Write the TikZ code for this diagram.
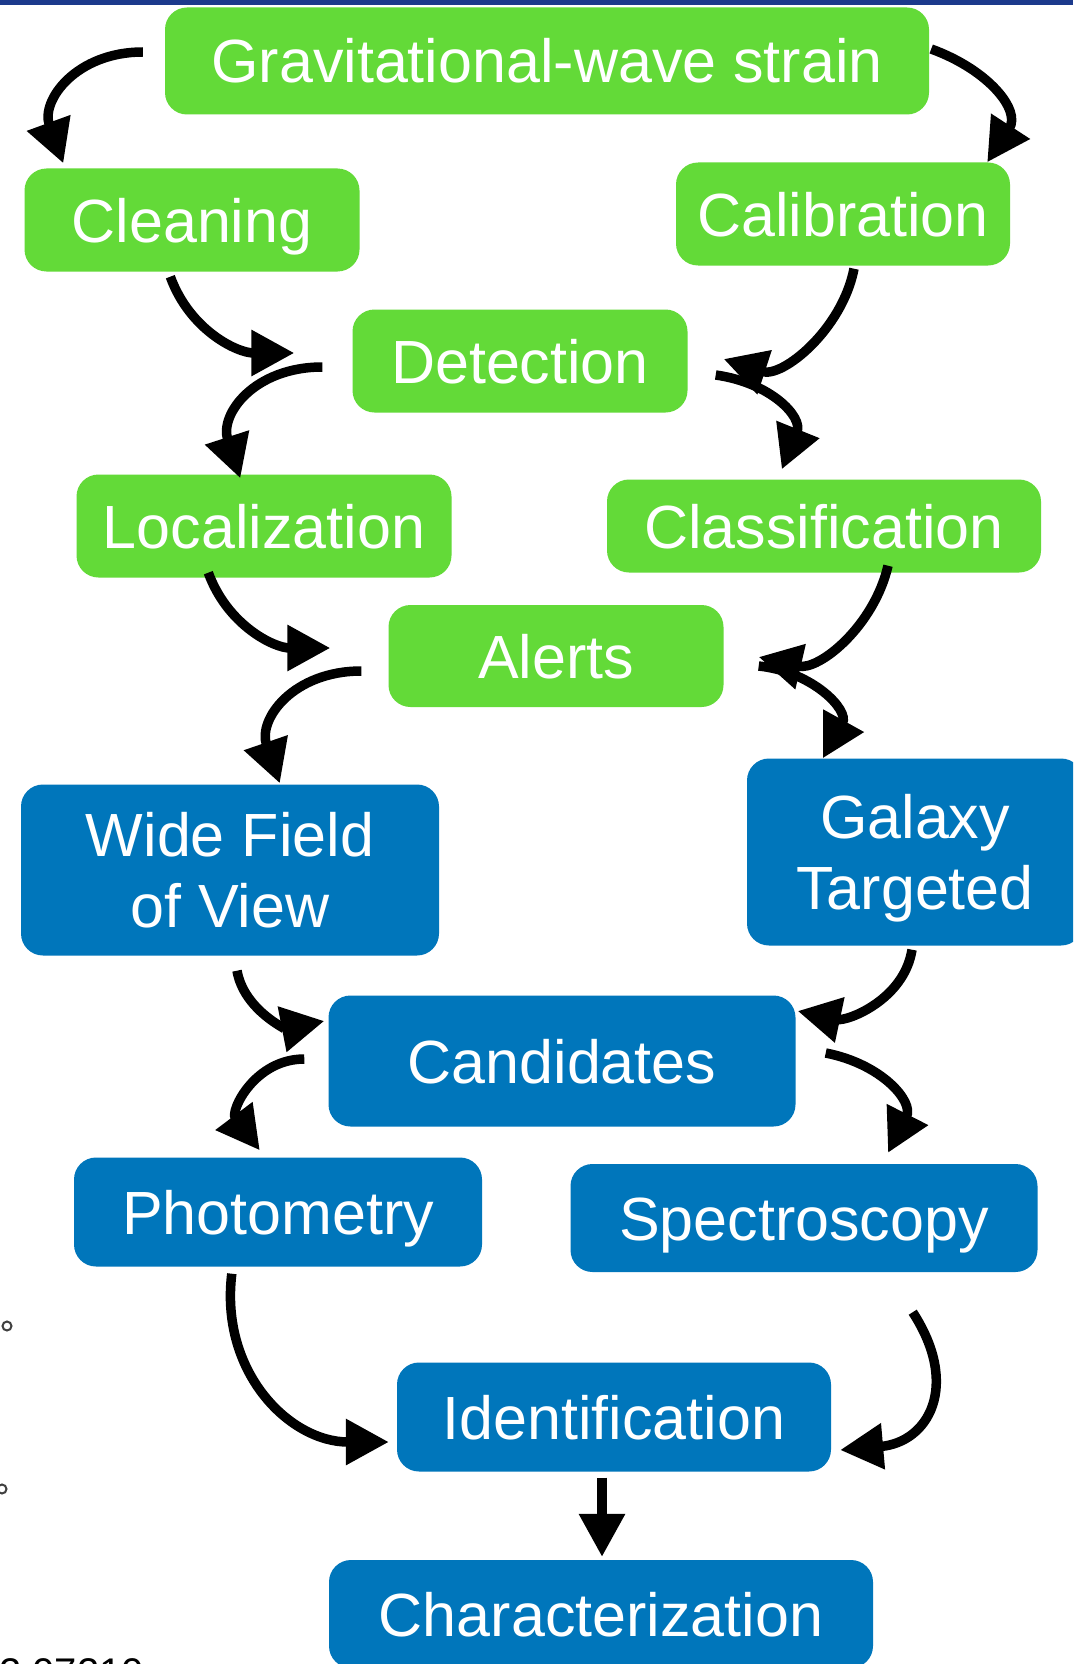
\documentclass[tikz,border=0pt]{standalone}
\usepackage{fontspec}
\setmainfont{Liberation Sans}
\usetikzlibrary{arrows.meta,calc}
\definecolor{ggreen}{RGB}{99,218,56}
\definecolor{bblue}{RGB}{0,118,187}
\definecolor{topbar}{RGB}{28,58,140}
\tikzset{
  boxbase/.style={rectangle, rounded corners=22pt, text=white, inner sep=0pt,
    font=\fontsize{61}{71}\selectfont},
  gbox/.style={boxbase, fill=ggreen},
  bbox/.style={boxbase, fill=bblue},
  oneline/.style={text height=44pt, text depth=0pt},
  arr/.style={line width=9.5pt, -{Triangle[length=43pt,width=44pt]}},
}
\begin{document}
\begin{tikzpicture}[x=1pt,y=1pt]
\useasboundingbox (0,0) rectangle (1073,-1664);
\clip (0,0) rectangle (1073,-1664);
\fill[white] (0,0) rectangle (1073,-1664);
\fill[topbar] (0,0) rectangle (1073,-5);

% nodes
\node[gbox, oneline, minimum width=764pt, minimum height=107pt] (grav) at (547,-61) {Gravitational-wave strain};
\node[gbox, oneline, minimum width=335pt, minimum height=103pt] (clean) at (192,-220) {Cleaning};
\node[gbox, oneline, minimum width=334pt, minimum height=103pt] (calib) at (843,-214) {Calibration};
\node[gbox, oneline, minimum width=335pt, minimum height=103pt] (detect) at (520,-361) {Detection};
\node[gbox, oneline, minimum width=375pt, minimum height=103pt] (local) at (264,-526) {Localization};
\node[gbox, oneline, minimum width=434pt, minimum height=93pt] (classif) at (824,-526) {Classification};
\node[gbox, oneline, minimum width=335pt, minimum height=102pt] (alerts) at (556,-656) {Alerts};
\node[bbox, align=center, text depth=0pt, minimum width=418pt, minimum height=171pt] (wide) at (230,-870) {Wide Field\\of View};
\node[bbox, align=center, text depth=0pt, minimum width=336pt, minimum height=187pt] (galaxy) at (915,-852) {Galaxy\\Targeted};
\node[bbox, oneline, minimum width=467pt, minimum height=131pt] (cand) at (562,-1061) {Candidates};
\node[bbox, oneline, minimum width=408pt, minimum height=109pt] (photo) at (278,-1212) {Photometry};
\node[bbox, oneline, minimum width=467pt, minimum height=108pt] (spec) at (804,-1218) {Spectroscopy};
\node[bbox, oneline, minimum width=434pt, minimum height=109pt] (ident) at (614,-1417) {Identification};
\node[bbox, oneline, minimum width=544pt, minimum height=108pt] (charac) at (601,-1614) {Characterization};

% arrow end points
\coordinate (a1s) at ($(grav.west)+(-22,9)$);
\coordinate (a1e) at ($(clean.north west)+(39,5)$);
\coordinate (a2s) at ($(grav.east)+(2,12)$);
\coordinate (a2e) at ($(calib.north east)+(-23,0)$);
\coordinate (a3s) at ($(clean.south west)+(146,-5)$);
\coordinate (a3e) at ($(detect.west)+(-58,8)$);
\coordinate (a4s) at ($(detect.west)+(-30,-6)$);
\coordinate (a4e) at ($(local.north west)+(164,-4)$);
\coordinate (a5s) at ($(calib.south)+(11,-3)$);
\coordinate (a5e) at ($(detect.east)+(36,2)$);
\coordinate (a6s) at ($(detect.east)+(28,-14)$);
\coordinate (a6e) at ($(classif.north west)+(175,10)$);
\coordinate (a7s) at ($(local.south west)+(132,5)$);
\coordinate (a7e) at ($(alerts.west)+(-58,8)$);
\coordinate (a8s) at ($(alerts.west)+(-27,-15)$);
\coordinate (a8e) at ($(wide.north west)+(259,1)$);
\coordinate (a9s) at ($(classif.south)+(64,7)$);
\coordinate (a9e) at ($(alerts.east)+(35,-1)$);
\coordinate (a10s) at ($(alerts.east)+(35,-10)$);
\coordinate (a10e) at ($(galaxy.north west)+(76,0)$);
\coordinate (a11s) at ($(wide.south)+(7,-15)$);
\coordinate (a11e) at ($(cand.west)+(-4,40)$);
\coordinate (a12s) at ($(cand.west)+(-24,2)$);
\coordinate (a12e) at ($(photo.north west)+(186,7)$);
\coordinate (a13s) at ($(galaxy.south)+(-3,-4)$);
\coordinate (a13e) at ($(cand.east)+(2,50)$);
\coordinate (a14s) at ($(cand.east)+(30,8)$);
\coordinate (a14e) at ($(spec.north)+(84,11)$);
\coordinate (a15s) at ($(photo.south west)+(158,-7)$);
\coordinate (a15e) at ($(ident.west)+(-8,-25)$);
\coordinate (a16s) at ($(spec.south east)+(-125,-40)$);
\coordinate (a16e) at ($(ident.east)+(9,-33)$);
\coordinate (a17s) at ($(ident.south)+(-12,-6)$);
\coordinate (a17e) at ($(charac.north)+(1,3)$);

% connectors
\draw[arr] (a1s) to[out=180,in=110,looseness=1.25] (a1e);
\draw[arr] (a2s) to[out=-20,in=57,looseness=1.25] (a2e);
\draw[arr] (a3s) to[out=-70,in=180] (a3e);
\draw[arr] (a4s) to[out=180,in=108,looseness=1.25] (a4e);
\draw[arr] (a5s) to[out=-101,in=-18] (a5e);
\draw[arr] (a6s) to[out=-8,in=68,looseness=1.25] (a6e);
\draw[arr] (a7s) to[out=-70,in=180] (a7e);
\draw[arr] (a8s) to[out=180,in=109,looseness=1.25] (a8e);
\draw[arr] (a9s) to[out=-103,in=-13] (a9e);
\draw[arr] (a10s) to[out=-6,in=61,looseness=1.25] (a10e);
\draw[arr] (a11s) to[out=-80,in=-169] (a11e);
\draw[arr] (a12s) to[out=180,in=127,looseness=1.25] (a12e);
\draw[arr] (a13s) to[out=-99,in=-12] (a13e);
\draw[arr] (a14s) to[out=-11,in=63,looseness=1.25] (a14e);
\draw[arr] (a15s) to[out=-97,in=180,looseness=1.1] (a15e);
\draw[arr] (a16s) to[out=-57,in=5,looseness=1.45] (a16e);
\draw[arr] (a17s) -- (a17e);

% page fragments at the left edge
\draw[line width=2pt, black!75] (7,-1326) circle[radius=4.5];
\draw[line width=2pt, black!75] (2,-1489) circle[radius=4.5];
\node[anchor=base west, inner sep=0pt, font=\fontsize{40}{48}\selectfont] (frag) at (-1,-1686) {2.07210};
\end{tikzpicture}
\end{document}
